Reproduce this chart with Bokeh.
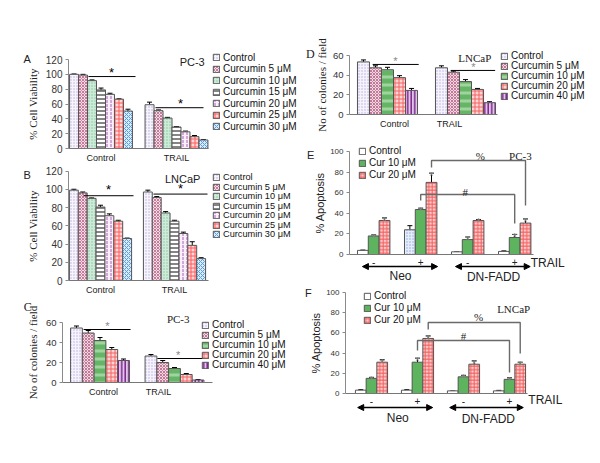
from bokeh.plotting import figure
from bokeh.models import (Range1d, FixedTicker, Legend, LegendItem, Label, Arrow,
                          NormalHead, Whisker, TeeHead, ColumnDataSource)
from bokeh.layouts import row, column
from bokeh.embed import file_html
from bokeh.resources import INLINE
from bokeh.core.properties import value

SANS = "Liberation Sans"
SERIF = "Liberation Serif"

# ---------------- data ----------------
AB_groups = ["Control", "TRAIL"]
AB_series = ["Control", "Curcumin 5 μM", "Curcumin 10 μM", "Curcumin 15 μM",
             "Curcumin 20 μM", "Curcumin 25 μM", "Curcumin 30 μM"]
A_control = [100, 99, 91.5, 79, 73, 66.5, 50.5]
A_control_err = [0.5, 1, 1, 2.5, 1.5, 0.5, 2.5]
A_trail = [59, 51, 41, 29, 22.5, 16, 11.5]
A_trail_err = [3.5, 1, 1, 0.5, 1, 1.5, 0.5]
B_control = [99, 96, 90, 80.5, 71, 65, 46]
B_control_err = [1, 1, 0.5, 2, 2, 1, 0.5]
B_trail = [97, 91, 74, 65, 51.5, 38.5, 24]
B_trail_err = [2, 1, 1.5, 1, 1.5, 4, 1]

CD_groups = ["Control", "TRAIL"]
CD_series = ["Control", "Curcumin 5 μM", "Curcumin 10 μM", "Curcumin 20 μM", "Curcumin 40 μM"]
C_control = [54.5, 49.5, 42, 33, 22]
C_control_err = [2, 2.5, 3, 2, 1.5]
C_trail = [26.5, 20, 14, 8, 2.5]
C_trail_err = [1.5, 2, 1, 1, 0.5]
D_control = [53.5, 47.5, 45.5, 37.5, 24.5]
D_control_err = [2, 2, 2.5, 2, 2]
D_trail = [47.5, 43, 33.5, 25.5, 12]
D_trail_err = [2, 1, 2, 1, 1]

EF_groups = ["-", "+", "-", "+"]
EF_series = ["Control", "Cur 10 μM", "Cur 20 μM"]
E_control = [4, 24, 2.6, 3]
E_control_err = [0.3, 4, 0, 0.5]
E_cur10 = [18, 43.7, 14.5, 16.5]
E_cur10_err = [1, 1.3, 2.5, 3]
E_cur20 = [33, 70, 33, 30.5]
E_cur20_err = [2.5, 9, 1, 4]
F_control = [3.3, 3.3, 2.6, 2.6]
F_control_err = [0.5, 0.5, 0, 0.5]
F_cur10 = [15, 31, 16.5, 14]
F_cur10_err = [1, 4, 1.5, 1.5]
F_cur20 = [31, 54.5, 29, 29]
F_cur20_err = [2.4, 2.5, 3.3, 2]

# ---------------- styles ----------------
AB_styles = [
    dict(fill_color="#f7f4fc", hatch_pattern=".", hatch_color="#b8ade0", hatch_scale=3),
    dict(fill_color="#f4dce6", hatch_pattern="x", hatch_color="#c47c9a", hatch_scale=3),
    dict(fill_color="#cdebd8", hatch_pattern=".", hatch_color="#86c49e", hatch_scale=3),
    dict(fill_color="#ffffff", hatch_pattern="-", hatch_color="#444444", hatch_scale=4, hatch_weight=1.3),
    dict(fill_color="#f9eff9", hatch_pattern=":", hatch_color="#a860b8", hatch_scale=4),
    dict(fill_color="#ffd8d8", hatch_pattern="+", hatch_color="#ff5a5a", hatch_scale=4),
    dict(fill_color="#d8ecfb", hatch_pattern="x", hatch_color="#5a9ee0", hatch_scale=4),
]
CD_styles = [
    dict(fill_color="#f6f3fc", hatch_pattern=".", hatch_color="#b8ade0", hatch_scale=3),
    dict(fill_color="#f2d6e2", hatch_pattern="x", hatch_color="#c07a98", hatch_scale=3),
    dict(fill_color="#66b566", hatch_pattern="-", hatch_color="#9fd49f", hatch_scale=8, hatch_weight=3),
    dict(fill_color="#ffd4d4", hatch_pattern="+", hatch_color="#f06464", hatch_scale=4),
    dict(fill_color="#e2c4e8", hatch_pattern="|", hatch_color="#7a2a8c", hatch_scale=3.5, hatch_weight=1.5),
]
EF_styles = [
    dict(fill_color="#ffffff"),
    dict(fill_color="#5eb35e"),
    dict(fill_color="#ffcaca", hatch_pattern="+", hatch_color="#f06060", hatch_scale=3.5),
]


def make_fig(rect, cx, sx, py0, sy, ax_l, ax_r, ytop):
    """rect: figure box in page px; (cx, sx): px of x=0 and px per x unit;
    (py0, sy): px of y=0 and px per y unit; ax_l/ax_r: axis extent in px."""
    X0, Y0, W, H = rect
    xr = ((X0 - cx) / sx, (X0 + W - cx) / sx)
    yr = ((py0 - (Y0 + H)) / sy, (py0 - Y0) / sy)
    p = figure(width=W, height=H, x_range=Range1d(*xr), y_range=Range1d(*yr),
               output_backend="svg", toolbar_location=None,
               min_border_left=0, min_border_right=0, min_border_top=0, min_border_bottom=0)
    p.title.text = ""
    p.grid.visible = False
    p.outline_line_color = None
    p.background_fill_color = "white"
    p.border_fill_color = "white"
    xl = (ax_l - cx) / sx
    xrr = (ax_r - cx) / sx
    p.yaxis.fixed_location = xl
    p.yaxis.bounds = (0, ytop)
    p.xaxis.fixed_location = 0
    p.xaxis.bounds = (xl, xrr)
    return p


def style_yaxis(p, ticks, label, font, label_size="11px", tick_size="10px", standoff=4):
    ax = p.yaxis[0]
    ax.ticker = FixedTicker(ticks=ticks)
    ax.axis_label = label
    ax.axis_label_text_font = font
    ax.axis_label_text_font_size = label_size
    ax.axis_label_text_font_style = "normal"
    ax.axis_label_text_color = "#222222"
    ax.axis_label_standoff = standoff
    ax.major_label_text_font = SANS
    ax.major_label_text_font_size = tick_size
    ax.major_label_text_color = "#333333"
    ax.major_label_standoff = 3
    ax.major_tick_out = 3
    ax.major_tick_in = 0
    ax.minor_tick_out = 0
    ax.minor_tick_in = 0
    ax.axis_line_color = "#8a8a8a"
    ax.major_tick_line_color = "#8a8a8a"


def style_xaxis(p, ticks, labels, size="9px", standoff=4):
    ax = p.xaxis[0]
    ax.ticker = FixedTicker(ticks=ticks)
    ax.major_label_overrides = {t: l for t, l in zip(ticks, labels)}
    ax.major_label_text_font = SANS
    ax.major_label_text_font_size = size
    ax.major_label_text_color = "#222222"
    ax.major_label_standoff = standoff
    ax.major_tick_out = 0
    ax.major_tick_in = 0
    ax.minor_tick_out = 0
    ax.minor_tick_in = 0
    ax.axis_line_color = "#777777"


def draw_bars(p, series_vals, series_errs, styles, bw):
    rs = []
    n = len(series_vals)
    for i, (vals, ers, st) in enumerate(zip(series_vals, series_errs, styles)):
        xs = [g + (i - (n - 1) / 2) * bw for g in range(len(vals))]
        data = dict(x=xs, top=list(vals), upper=[v + e for v, e in zip(vals, ers)])
        kw = {}
        for k, v in st.items():
            if isinstance(v, list):
                data[k] = v
                kw[k] = k
            else:
                kw[k] = v
        src = ColumnDataSource(data)
        r = p.vbar(x="x", top="top", width=bw, source=src, line_color="#555555", line_width=1, **kw)
        p.add_layout(Whisker(source=src, base="x", upper="upper", lower="top",
                             upper_head=TeeHead(size=5, line_color="black", line_width=1),
                             lower_head=None, line_color="black", line_width=1))
        rs.append((r, src))
    return rs


def add_legend(p, rect, names, rs, x_px, y0_px, pitch, size=10, index=None):
    """One legend entry per series, stacked at a fixed pitch (page px)."""
    X0, Y0, W, H = rect
    h = 1.117 * size
    for i, (nm, (r, _)) in enumerate(zip(names, rs)):
        cy = y0_px + i * pitch
        vy = (Y0 + H) - cy - h / 2
        leg = Legend(items=[LegendItem(label=nm, renderers=[r], index=index)],
                     location=(x_px - X0, vy), glyph_width=8, glyph_height=8, label_height=8,
                     label_width=10, label_standoff=3, spacing=0, padding=0, margin=0,
                     border_line_color=None, background_fill_alpha=0,
                     label_text_font=SANS, label_text_font_size=f"{size}px",
                     label_text_color="#111111")
        p.add_layout(leg)


def lab(p, x, y, text, font=SANS, size="11px", align="center", baseline="middle", color="#222222"):
    p.add_layout(Label(x=x, y=y, text=text, text_font=font, text_font_size=size,
                       text_align=align, text_baseline=baseline, text_color=color))


def star_line(p, x0, x1, y, sx, sy, color="black", size="13px"):
    p.line([x0, x1], [y, y], line_color="black", line_width=1)
    lab(p, sx, sy, "*", size=size, color=color)


def bar_stars(p, rs, which, color="#8a8a8a"):
    for i in which:
        src = rs[i][1]
        s = ColumnDataSource(dict(x=src.data["x"], y=src.data["upper"], t=["*"] * len(src.data["x"])))
        p.text(x="x", y="y", text="t", source=s, text_font=value(SANS), text_font_size=value("11px"),
               text_align="center", text_baseline="alphabetic", text_color=color, y_offset=3)


# ---------------- panel A ----------------
rectA = (0, 0, 300, 165)
fa = make_fig(rectA, 100.5, 75.5, 148, 89 / 120, 68, 208, 120)
style_yaxis(fa, [0, 20, 40, 60, 80, 100, 120], "% Cell Viability", SERIF)
style_xaxis(fa, [0, 1], AB_groups)
rsA = draw_bars(fa, [[c, t] for c, t in zip(A_control, A_trail)],
                [[c, t] for c, t in zip(A_control_err, A_trail_err)], AB_styles, 0.119)
add_legend(fa, rectA, AB_series, rsA, 212, 57, 11.5)
star_line(fa, -0.166, 0.457, 97, 0.139, 103)
star_line(fa, 0.722, 1.358, 55, 1.053, 61)
lab(fa, 1.208, 116.3, "PC-3")
lab(fa, -0.977, 121, "A")

# ---------------- panel B ----------------
rectB = (0, 165, 300, 133)
fb = make_fig(rectB, 100, 74, 280, 109.5 / 120, 68, 208, 120)
style_yaxis(fb, [0, 20, 40, 60, 80, 100, 120], "% Cell Viability", SERIF)
style_xaxis(fb, [0, 1], AB_groups)
rsB = draw_bars(fb, [[c, t] for c, t in zip(B_control, B_trail)],
                [[c, t] for c, t in zip(B_control_err, B_trail_err)], AB_styles, 0.12)
add_legend(fb, rectB, AB_series, rsB, 212, 177, 9.5, size=9.2)
star_line(fb, -0.23, 0.446, 92.9, 0.108, 99.5)
star_line(fb, 0.716, 1.446, 94.7, 1.08, 101)
lab(fb, 1.11, 111, "LNCaP")
lab(fb, -0.99, 115.6, "B")

# ---------------- panel C ----------------
rectC = (0, 298, 300, 165)
fc = make_fig(rectC, 99.5, 74.5, 382, 1.0, 62, 212, 60)
style_yaxis(fc, [0, 20, 40, 60], "No of colonies / field", SERIF, tick_size="9.5px")
style_xaxis(fc, [0.047, 0.785], CD_groups)
rsC = draw_bars(fc, [[c, t] for c, t in zip(C_control, C_trail)],
                [[c, t] for c, t in zip(C_control_err, C_trail_err)], CD_styles, 0.158)
add_legend(fc, rectC, CD_series, rsC, 201, 324.5, 10)
star_line(fc, -0.22, 0.41, 53, 0.10, 56.5, color="#888888", size="11px")
star_line(fc, 0.77, 1.39, 24, 1.05, 27.5, color="#888888", size="11px")
lab(fc, 1.05, 64, "PC-3", font=SERIF)
lab(fc, -0.97, 76, "C", font=SERIF, size="12px")

# ---------------- panel D ----------------
rectD = (300, 0, 300, 135)
fd = make_fig(rectD, 387, 78, 114, 59 / 60, 349, 497, 60)
style_yaxis(fd, [0, 20, 40, 60], "No of colonies / field", SERIF, tick_size="9.5px", standoff=2)
style_xaxis(fd, [0.09, 0.795], CD_groups)
rsD = draw_bars(fd, [[c, t] for c, t in zip(D_control, D_trail)],
                [[c, t] for c, t in zip(D_control_err, D_trail_err)], CD_styles, 0.154)
add_legend(fd, rectD, CD_series, rsD, 500, 55.5, 10)
star_line(fd, -0.19, 0.40, 50.9, 0.10, 54.5, color="#888888", size="11px")
star_line(fd, 0.81, 1.38, 44.8, 1.10, 48.5, color="#888888", size="11px")
lab(fd, 1.12, 57, "LNCaP", font=SERIF)
lab(fd, -0.99, 62, "D", font=SERIF, size="12px")


# ---------------- panels E / F ----------------
def ef_panel(rect, cx, sx, py0, sy, ax_l, ax_r, bw, ctrl, ctrl_e, c10, c10_e, c20, c20_e,
             ctrl_style, leg_xy, spec):
    p = make_fig(rect, cx, sx, py0, sy, ax_l, ax_r, 100)
    style_yaxis(p, [0, 20, 40, 60, 80, 100], "% Apoptosis", SANS, tick_size="8px", standoff=1)
    style_xaxis(p, [0, 1, 2, 3], EF_groups, size="10px", standoff=3)
    styles = [ctrl_style, EF_styles[1], EF_styles[2]]
    rs = draw_bars(p, [ctrl, c10, c20], [ctrl_e, c10_e, c20_e], styles, bw)
    add_legend(p, rect, EF_series, rs, leg_xy[0], leg_xy[1], 12, index=0)
    bar_stars(p, rs, [1, 2])
    xs1 = rs[1][1].data["x"]
    xs2 = rs[2][1].data["x"]
    p.line([xs2[1], xs2[1], xs2[3], xs2[3]], spec["pct"], line_color="#6a6a6a", line_width=1.4)
    p.line([xs1[1], xs1[1], xs1[3], xs1[3]], spec["hash"], line_color="#6a6a6a", line_width=1.4)
    lab(p, *spec["pct_txt"], "%", font=SERIF)
    lab(p, *spec["hash_txt"], "#", font=SERIF)
    lab(p, *spec["cell_txt"], spec["cell"], font=SERIF)
    lab(p, *spec["trail"], "TRAIL", size="12px", align="left")
    ya = spec["arrow_y"]
    for (x0, x1) in spec["arrows"]:
        p.add_layout(Arrow(x_start=x0, y_start=ya, x_end=x1, y_end=ya, line_width=1.4, line_color="black",
                           start=NormalHead(size=6, fill_color="black", line_color="black"),
                           end=NormalHead(size=6, fill_color="black", line_color="black")))
    lab(p, *spec["neo"], "Neo", size="12px")
    lab(p, *spec["dn"], "DN-FADD", size="12px")
    lab(p, *spec["letter"], spec["letter_t"], size="11px")
    return p


E_ctrl_style = dict(fill_color=["#ffffff", "#e6edfa", "#ffffff", "#ffffff"],
                    hatch_pattern=[" ", ".", " ", " "], hatch_color="#8fa8e0", hatch_scale=3)
fe = ef_panel((300, 135, 300, 148), 373.2, 47, 254, 1.03, 349, 533, 0.23,
              E_control, E_control_err, E_cur10, E_cur10_err, E_cur20, E_cur20_err,
              E_ctrl_style, (358, 150.5),
              dict(pct=[84.5, 91.3, 91.3, 47.6], hash=[52.4, 58.3, 58.3, 30],
                   pct_txt=(2.27, 96), hash_txt=(1.95, 61), cell_txt=(3.12, 96), cell="PC-3",
                   trail=(3.34, -8), arrow_y=-11.7, arrows=[(-0.24, 1.36), (1.74, 3.33)],
                   neo=(0.57, -21), dn=(2.55, -21.5), letter=(-1.34, 97), letter_t="E"))
ff = ef_panel((300, 283, 300, 180), 371, 46, 393, 1.01, 345, 527, 0.233,
              F_control, F_control_err, F_cur10, F_cur10_err, F_cur20, F_cur20_err,
              EF_styles[0], (363, 295.5),
              dict(pct=[63.4, 70.3, 70.3, 39.6], hash=[42.6, 52.5, 52.5, 20.8],
                   pct_txt=(2.33, 76), hash_txt=(2.0, 56.5), cell_txt=(3.09, 84), cell="LNCaP",
                   trail=(3.41, -6), arrow_y=-13.9, arrows=[(-0.30, 1.33), (1.70, 3.30)],
                   neo=(0.57, -24), dn=(2.54, -25), letter=(-1.37, 100), letter_t="F"))

layout = row(column(fa, fb, fc), column(fd, fe, ff))
open("out.html", "w").write(file_html(layout, INLINE))
